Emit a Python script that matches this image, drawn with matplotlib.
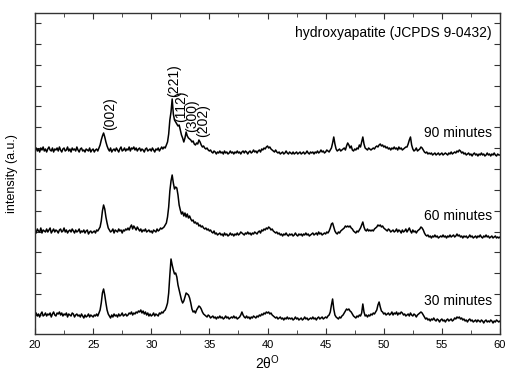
# -*- coding: utf-8 -*-

import numpy as np
import matplotlib.pyplot as plt

plt.rcParams['font.family'] = ['Liberation Sans', 'DejaVu Sans']
plt.rcParams['mathtext.fontset'] = 'custom'
plt.rcParams['mathtext.rm'] = 'Liberation Sans'

# 2theta grid, 0.1 deg steps from 20 to 60
two_theta = np.round(np.arange(20.0, 60.05, 0.1), 1)

# intensities (arb. units, relative to each trace's baseline)
i_30 = [
    0, 2, -1, 1, -2, 1, 3, -1, 0, 2,
    -1, 1, 0, 2, -2, 1, 3, 0, -1, 2,
    1, 3, 0, 2, -1, 1, 0, 2, -2, 1,
    0, -1, 2, 1, -2, 0, 1, -1, 0, -2,
    1, -1, -3, 0, -2, -1, 1, -2, 0, -1,
    -2, 0, -1, 1, -1, 2, 5, 12, 22, 26,   # 25
    20, 12, 5, 1, -1, -3, 0, -2, 1, -1,
    0, -2, 1, -1, 0, 2, -1, 0, 1, -1,
    0, 2, 1, 3, 0, 2, 1, 3, 2, 4,
    3, 5, 2, 4, 1, 3, 0, 2, -1, 1,
    -1, 0, 2, -1, 1, 0, -1, 2, 1, 3,      # 30
    2, 4, 5, 8, 12, 22, 40, 56, 50, 45,
    41, 42, 38, 30, 25, 20, 15, 12, 14, 18,
    22, 21, 20, 17, 12, 6, 3, 4, 2, 5,
    7, 9, 8, 6, 3, 1, 0, -1, -2, 0,
    -1, -3, -2, -1, -3, -2, -4, -2, -3, -1,  # 35
    -3, -2, -4, -3, -1, -3, -2, -4, -3, -2,
    -3, -1, -3, -2, -4, -3, -2, 0, 3, 0,
    -2, -3, -1, -3, -2, -4, -2, -3, -1, -2,
    -3, -1, -2, 0, -1, 1, 0, 2, 1, 3,
    2, 3, 1, 2, 0, -1, -2, -3, -2, -4,    # 40
    -3, -2, -4, -3, -5, -3, -4, -2, -4, -3,
    -4, -3, -5, -4, -2, -4, -3, -5, -4, -3,
    -5, -4, -2, -4, -3, -5, -4, -3, -4, -2,
    -4, -3, -5, -3, -2, -4, -3, -2, -4, -3,
    -2, -3, -1, 0, 3, 10, 16, 6, 0, -2,   # 45
    -3, -4, -2, -3, -1, 0, 2, 4, 6, 5,
    6, 4, 3, 1, -1, -2, -3, -1, -2, 0,
    -1, 2, 11, 3, -1, 0, -2, 0, -1, 1,
    0, 2, 1, 3, 5, 10, 13, 8, 4, 3,
    1, 2, 0, 1, 2, 0, 1, 3, 0, 2,        # 50
    1, 3, 0, 2, 1, 3, 2, 0, 1, -1,
    0, 1, -1, 2, 0, -1, 1, 0, -2, 0,
    1, 2, 3, 2, 0, -2, -4, -3, -5, -4,
    -6, -4, -5, -3, -5, -6, -4, -5, -7, -5,
    -4, -6, -5, -7, -5, -4, -6, -5, -4, -6,  # 55
    -5, -3, -4, -2, -3, -2, -4, -3, -5, -4,
    -6, -5, -7, -5, -4, -6, -5, -7, -6, -5,
    -7, -5, -6, -7, -5, -6, -8, -6, -5, -7,
    -6, -7, -5, -6, -8, -6, -7, -5, -6, -7,
    -6]

i_60 = [
    1, -2, 2, 0, -1, 3, -2, 1, 0, -1,
    2, -1, 1, 3, -2, 0, 2, -1, 1, 0,
    -2, 1, 2, -1, 0, 3, -1, 1, -2, 0,
    1, -1, 2, 0, -2, 1, -1, 0, 2, -2,
    0, -1, 1, -2, 0, 1, -3, -1, 0, -2,
    -1, 0, -2, 1, 0, 2, 4, 10, 20, 26,    # 25
    22, 14, 8, 3, 1, -1, 0, 2, -2, 1,
    0, -1, 2, 0, 1, -2, 1, 0, 2, 1,
    3, 1, 4, 6, 2, 5, 3, 1, 4, 2,
    0, 2, -1, 1, 0, 2, -1, 0, 1, -1,
    0, -2, 1, 0, -1, 2, 0, 1, 3, 2,       # 30
    3, 4, 6, 8, 14, 24, 40, 50, 56, 48,
    42, 44, 43, 36, 26, 21, 17, 19, 15, 18,
    14, 17, 13, 15, 12, 10, 11, 8, 9, 7,
    8, 5, 6, 4, 5, 3, 2, 3, 1, 2,
    0, 1, -1, -2, 0, -3, -2, -4, -3, -2,  # 35
    -4, -3, -5, -2, -4, -3, -5, -4, -2, -4,
    -3, -5, -3, -4, -2, -4, -3, -1, -2, -3,
    -4, -2, -3, -1, -3, -2, -4, -2, -3, -1,
    -2, -3, -1, 0, -2, 1, 0, 2, 1, 3,
    2, 4, 3, 1, 2, 0, -1, -2, -1, -3,     # 40
    -2, -4, -3, -5, -3, -4, -2, -4, -5, -3,
    -4, -3, -5, -4, -2, -4, -5, -3, -4, -3,
    -5, -3, -4, -2, -4, -3, -5, -4, -3, -2,
    -4, -3, -2, -4, -1, -3, -2, -4, -3, -2,
    -3, -1, -2, 0, 3, 7, 8, 4, 0, -2,     # 45
    -3, -1, -2, 0, 1, 2, 3, 5, 4, 5,
    4, 5, 3, 2, 0, -1, -2, 0, -1, 1,
    3, 6, 9, 4, 1, 0, 2, 0, 1, 0,
    1, 0, 2, 3, 4, 6, 5, 6, 4, 5,
    3, 2, 1, 0, 2, 1, -1, 0, 1, -1,       # 50
    0, 2, -1, 1, 0, -2, 1, -1, 0, 2,
    -1, 1, 3, 0, -2, 1, -1, 0, -2, 0,
    1, 2, 4, 3, 1, -2, -4, -5, -4, -6,
    -5, -7, -5, -6, -4, -6, -5, -7, -6, -5,
    -6, -4, -6, -5, -7, -5, -6, -4, -6, -5,  # 55
    -4, -6, -5, -3, -5, -4, -6, -5, -7, -5,
    -6, -5, -7, -6, -4, -6, -5, -7, -6, -5,
    -7, -5, -6, -4, -6, -7, -5, -6, -4, -6,
    -5, -7, -6, -5, -7, -6, -5, -7, -6, -7,
    -6]

i_90 = [
    0, 2, -1, 1, -2, 2, 0, 3, -1, 1,
    -2, 1, 3, 0, -1, 2, -2, 1, 0, 2,
    -1, 3, 0, -2, 1, 2, -1, 0, 3, -1,
    1, -2, 2, 0, 1, -1, 3, 0, -2, 1,
    2, -1, 0, -2, 1, 0, -1, 2, -2, 0,
    1, -2, 0, 1, -1, 2, 5, 10, 14, 17,    # 25
    13, 8, 4, 1, -1, 2, -2, 0, 1, -1,
    2, 0, -2, 1, 3, -1, 0, 2, -1, 1,
    0, 3, -1, 2, 1, 3, 0, 2, -1, 1,
    2, -1, 1, 0, -2, 1, 2, -1, 0, 1,
    -1, 2, 0, -2, 1, 0, 2, -1, 1, 3,      # 30
    1, 3, 2, 5, 8, 16, 30, 38, 51, 36,
    30, 28, 26, 24, 25, 20, 15, 12, 8, 12,
    18, 14, 12, 11, 10, 8, 9, 6, 5, 7,
    6, 10, 8, 5, 3, 4, 2, 1, 2, 0,
    -1, 0, -2, -3, -1, -2, -4, -2, -3, -1,  # 35
    -3, -2, -4, -1, -3, -2, -4, -3, -1, -3,
    -2, -4, -2, -3, -1, -3, -2, -4, -2, -1,
    -3, -1, -2, -4, -2, -1, -3, -2, 0, -2,
    -1, -3, -1, 0, -2, 1, 0, 2, 1, 3,
    4, 2, 3, 1, 0, -1, -2, 0, -2, -3,     # 40
    -2, -4, -3, -2, -4, -3, -1, -3, -4, -2,
    -3, -4, -2, -4, -3, -2, -4, -3, -2, -4,
    -3, -2, -4, -3, -1, -3, -4, -2, -3, -2,
    -4, -2, -3, -1, -3, -2, 0, -2, -1, -3,
    -2, 0, -1, -2, 0, 2, 7, 13, 6, 1,     # 45
    -1, 0, 1, -1, 0, 1, 2, 0, 4, 7,
    5, 2, 4, 0, -1, 1, 0, 2, 1, 5,
    3, 8, 13, 6, 2, 1, 0, 2, 1, 0,
    1, 2, 1, 3, 4, 3, 5, 6, 4, 5,
    3, 4, 2, 3, 1, 2, 0, 2, 1, 3,         # 50
    1, 2, 0, 3, 1, 2, 0, 1, 2, 3,
    3, 6, 10, 13, 5, 1, -1, 0, 2, -1,
    0, 1, 3, 2, 0, -2, -3, -2, -4, -3,
    -4, -3, -5, -4, -3, -5, -4, -3, -5, -4,
    -3, -5, -4, -3, -4, -5, -3, -4, -2, -4,  # 55
    -3, -2, -3, -1, -2, 0, -1, -3, -2, -4,
    -3, -5, -4, -3, -5, -4, -6, -4, -3, -5,
    -4, -6, -4, -5, -3, -5, -4, -6, -5, -3,
    -5, -4, -6, -4, -5, -3, -5, -6, -4, -5,
    -5]

labels = ['30 minutes', '60 minutes', '90 minutes']
offsets = [19, 103, 184]  # vertical stacking of the traces
label_y = [33, 118, 201]

# (hkl) reflections marked on the 90 min pattern: position, text bottom
hkl = ['(002)', '(221)', '(112)', '(300)', '(202)']
hkl_x = [26.45, 31.98, 32.6, 33.5, 34.45]
hkl_y = [204, 237, 212, 202, 197]

fig = plt.figure(figsize=(5.06, 3.71), dpi=100)
ax = fig.add_axes([35 / 506, 1 - 334 / 371, 465 / 506, 321 / 371])

for data, off in zip([i_30, i_60, i_90], offsets):
    ax.plot(two_theta, np.array(data) + off, color='k', lw=1.1)

for lab, y in zip(labels, label_y):
    ax.text(59.3, y, lab, ha='right', va='center', fontsize=10)

for t, x, y in zip(hkl, hkl_x, hkl_y):
    ax.text(x, y, t, rotation=90, ha='center', va='bottom', fontsize=10)

ax.text(59.3, 301, 'hydroxyapatite (JCPDS 9-0432)', ha='right', va='center', fontsize=10)

ax.set_xlim(20, 60)
ax.set_ylim(0, 321)
ax.set_xticks(np.arange(20, 61, 5))
ax.set_xticks(np.arange(22.5, 60, 5), minor=True)
ax.set_yticks(np.arange(19, 321, 20.86))
ax.set_yticklabels([])
ax.tick_params(which='both', direction='in', top=True, right=True, labelsize=8, pad=4, color='#333333')
ax.tick_params(which='major', length=4)
ax.tick_params(which='minor', length=3)
for s in ax.spines.values():
    s.set_linewidth(1.0)
    s.set_color('#333333')

ax.set_xlabel('2θ$^{\\mathrm{O}}$', fontsize=10)
ax.xaxis.set_label_coords(0.5, -0.06)
ax.xaxis.label.set_va('top')
ax.set_ylabel('intensity (a.u.)', fontsize=9)
ax.yaxis.set_label_coords(-0.037, 0.5)

fig.savefig('out.png', dpi=100)
